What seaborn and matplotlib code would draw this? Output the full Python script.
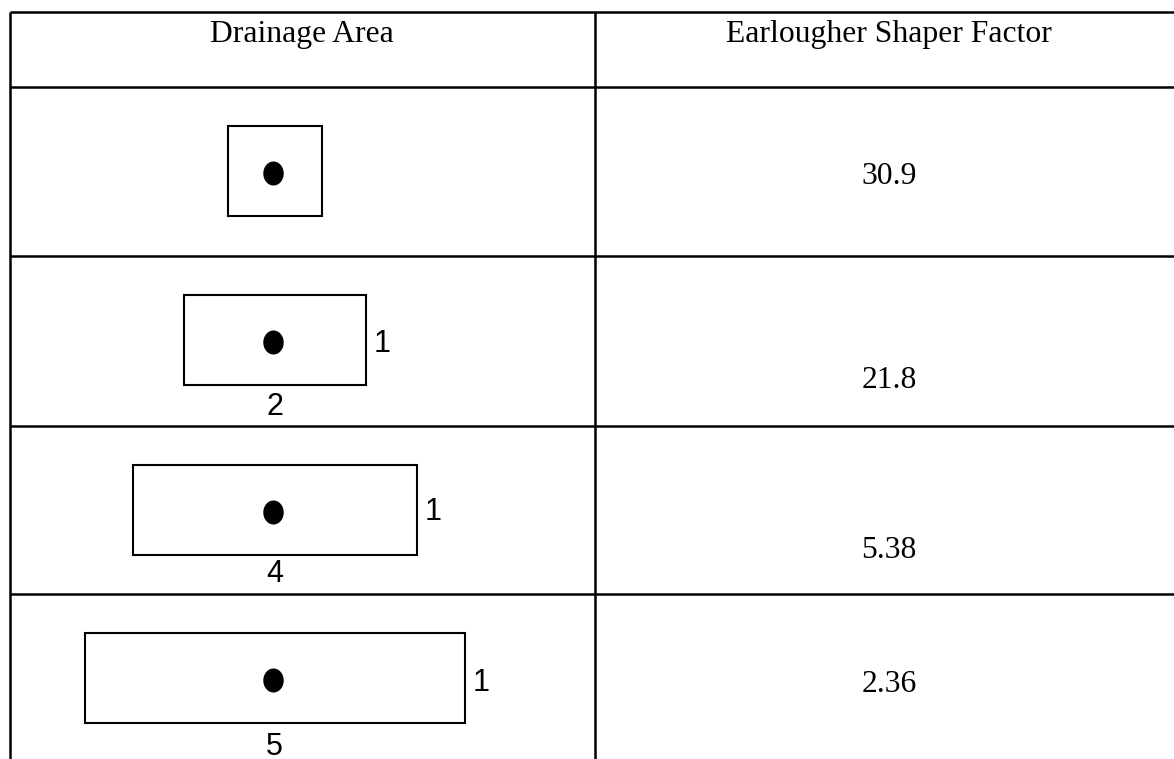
import numpy as np
import matplotlib
matplotlib.use("Agg")
import matplotlib.pyplot as plt
from matplotlib.path import Path
from matplotlib.patches import Rectangle
import seaborn as sns

# data
headers = ["Drainage Area", "Earlougher Shaper Factor"]
long_side = ["", "2", "4", "5"]          # length label under each drainage shape
short_side = ["", "1", "1", "1"]         # width label on right of each shape
shape_factor = [30.9, 21.8, 5.38, 2.36]

# layout (pixel coords, y down)
W, H = 1174, 759
row_lines = [12, 87, 256, 426, 594]
col_lines = [10, 595]
shape_cx = 274.5
shape_cy = [171, 340, 509.5, 678]
shape_w = [94, 182, 284, 380]
shape_h = 90
dot_x = 273
dot_off = 2
value_x = 889
value_base = [183.5, 388, 557.5, 692.5]
header_x = [302, 889]
header_base = 41.7
short_base = [0, 352, 520, 691]
long_base = [0, 415, 582, 755]

sns.set_theme(style="white")
plt.rcParams['font.family'] = ['Liberation Serif', 'DejaVu Serif']

fig = plt.figure(figsize=(W / 100, H / 100), dpi=100)
ax = fig.add_axes([0, 0, 1, 1])
ax.set_xlim(0, W)
ax.set_ylim(H, 0)
ax.axis('off')

# table grid
for y in row_lines:
    ax.plot([col_lines[0], W], [y, y], color='black', lw=1.8, solid_capstyle='butt')
for x in col_lines:
    ax.plot([x, x], [row_lines[0], H], color='black', lw=1.8, solid_capstyle='butt')

# header
for txt, x in zip(headers, header_x):
    ax.text(x, header_base, txt, fontsize=22.8, ha='center', va='baseline', color='black')

# drainage shapes
for i in range(len(shape_factor)):
    w = shape_w[i]
    ax.add_patch(Rectangle((shape_cx - w / 2, shape_cy[i] - shape_h / 2), w, shape_h,
                           fill=False, edgecolor='black', lw=1.5))
    if short_side[i]:
        ax.text(shape_cx + w / 2 + 8, short_base[i], short_side[i], family='Liberation Sans',
                fontsize=22, ha='left', va='baseline', color='black')
    if long_side[i]:
        ax.text(shape_cx, long_base[i], long_side[i], family='Liberation Sans',
                fontsize=22, ha='center', va='baseline', color='black')

# well dots (elliptical marker)
t = np.linspace(0, 2 * np.pi, 60)
ell = Path(np.column_stack([0.85 * np.cos(t), np.sin(t)]), closed=True)
sns.scatterplot(x=[dot_x] * len(shape_factor), y=[c + dot_off for c in shape_cy],
                marker=ell, s=300, color='black', linewidth=0, legend=False, ax=ax)

# shape factor values
for v, yb in zip(shape_factor, value_base):
    ax.text(value_x, yb, f"{v:g}", fontsize=22.8, ha='center', va='baseline', color='black')

fig.savefig("out.png", dpi=100, facecolor='white')
